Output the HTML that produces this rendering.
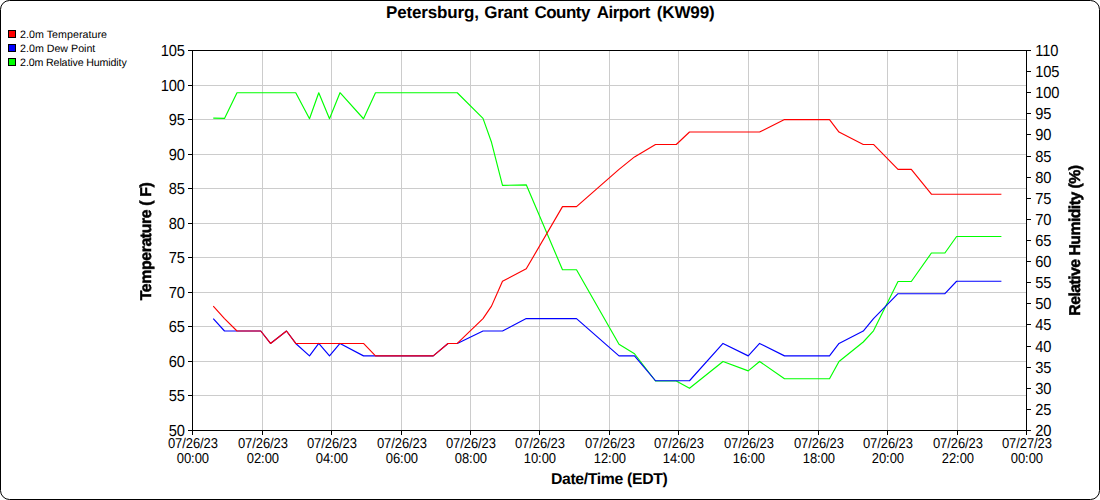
<!DOCTYPE html>
<html><head><meta charset="utf-8"><title>Petersburg, Grant County Airport (KW99)</title>
<style>
html,body{margin:0;padding:0;background:#fff;}
body{width:1100px;height:500px;position:relative;overflow:hidden;font-family:"Liberation Sans",sans-serif;color:#000;text-rendering:geometricPrecision;}
.t{position:absolute;white-space:nowrap;line-height:1;}
.tt{font-weight:bold;font-size:17px;top:4px;}
.yl{font-size:14.67px;text-align:right;width:60px;left:124.7px;letter-spacing:-0.16px;transform:scaleY(1.09);transform-origin:50% 2.5px;}
.yr{font-size:14.67px;text-align:left;left:1035.3px;letter-spacing:-0.16px;transform:scaleY(1.09);transform-origin:50% 2.5px;}
.xl{font-size:13px;text-align:center;width:80px;letter-spacing:-0.1px;transform:scaleY(1.1);transform-origin:50% 3px;}
.ax{font-weight:bold;font-size:15.8px;}
.lg{font-size:10.67px;left:20.1px;}
.sq{position:absolute;left:8px;width:6px;height:6px;border:1px solid #000;}
</style></head><body>
<svg width="1100" height="500" viewBox="0 0 1100 500" style="position:absolute;left:0;top:0">
<g fill="#cccccc" shape-rendering="crispEdges"><rect x="262" y="51" width="1" height="379"/><rect x="331" y="51" width="1" height="379"/><rect x="401" y="51" width="1" height="379"/><rect x="470" y="51" width="1" height="379"/><rect x="539" y="51" width="1" height="379"/><rect x="609" y="51" width="1" height="379"/><rect x="678" y="51" width="1" height="379"/><rect x="748" y="51" width="1" height="379"/><rect x="818" y="51" width="1" height="379"/><rect x="887" y="51" width="1" height="379"/><rect x="957" y="51" width="1" height="379"/><rect x="193" y="395" width="833" height="1"/><rect x="193" y="361" width="833" height="1"/><rect x="193" y="326" width="833" height="1"/><rect x="193" y="292" width="833" height="1"/><rect x="193" y="257" width="833" height="1"/><rect x="193" y="223" width="833" height="1"/><rect x="193" y="188" width="833" height="1"/><rect x="193" y="154" width="833" height="1"/><rect x="193" y="119" width="833" height="1"/><rect x="193" y="85" width="833" height="1"/></g>
<g fill="none" stroke-width="1.15" stroke-linejoin="round">
<polyline stroke="#00ff00" points="213.25,118.19 224.50,118.38 237.00,92.72 260.75,92.72 270.50,92.72 286.50,92.72 295.75,92.72 309.50,118.76 318.75,92.72 329.50,118.76 340.00,92.72 363.50,118.76 375.50,92.72 433.25,92.72 448.00,92.72 457.25,92.72 483.00,118.38 491.50,142.29 502.50,185.42 526.25,184.81 562.50,269.72 576.50,269.72 619.00,344.32 634.50,353.75 655.50,381.01 676.25,381.01 689.50,388.32 723.00,361.45 748.25,370.91 759.60,361.45 784.50,378.71 829.50,378.71 839.00,361.45 863.25,342.01 873.50,330.82 898.00,281.50 911.30,281.50 931.40,253.04 944.90,253.04 956.60,236.50 1001.40,236.50"/>
<polyline stroke="#0000ff" points="213.25,318.57 224.50,331.01 237.00,331.01 260.75,331.01 270.50,343.45 286.50,331.01 295.75,343.45 309.50,355.88 318.75,343.45 329.50,355.88 340.00,343.45 363.50,355.88 375.50,355.88 433.25,355.88 448.00,343.45 457.25,343.45 483.00,331.01 491.50,331.01 502.50,331.01 526.25,318.57 562.50,318.57 576.50,318.57 619.00,355.88 634.50,355.88 655.50,380.75 676.25,380.75 689.50,380.75 723.00,343.45 748.25,355.88 759.60,343.45 784.50,355.88 829.50,355.88 839.00,343.45 863.25,331.01 873.50,318.57 898.00,293.70 911.30,293.70 931.40,293.70 944.90,293.70 956.60,281.26 1001.40,281.26"/>
<polyline stroke="#ff0000" points="213.25,306.14 224.50,318.57 237.00,331.01 260.75,331.01 270.50,343.45 286.50,331.01 295.75,343.45 309.50,343.45 318.75,343.45 329.50,343.45 340.00,343.45 363.50,343.45 375.50,355.88 433.25,355.88 448.00,343.45 457.25,343.45 483.00,318.57 491.50,306.14 502.50,281.26 526.25,268.83 562.50,206.65 576.50,206.65 619.00,169.34 634.50,156.90 655.50,144.46 676.25,144.46 689.50,132.03 723.00,132.03 748.25,132.03 759.60,132.03 784.50,119.59 829.50,119.59 839.00,132.03 863.25,144.46 873.50,144.46 898.00,169.34 911.30,169.34 931.40,194.21 944.90,194.21 956.60,194.21 1001.40,194.21"/>
</g>
<g fill="#000" shape-rendering="crispEdges"><rect x="192" y="50" width="835" height="1"/><rect x="188" y="430" width="843" height="1"/><rect x="192" y="50" width="1" height="385"/><rect x="1026" y="50" width="1" height="385"/><rect x="188" y="430" width="5" height="1"/><rect x="188" y="395" width="5" height="1"/><rect x="188" y="361" width="5" height="1"/><rect x="188" y="326" width="5" height="1"/><rect x="188" y="292" width="5" height="1"/><rect x="188" y="257" width="5" height="1"/><rect x="188" y="223" width="5" height="1"/><rect x="188" y="188" width="5" height="1"/><rect x="188" y="154" width="5" height="1"/><rect x="188" y="119" width="5" height="1"/><rect x="188" y="85" width="5" height="1"/><rect x="188" y="50" width="5" height="1"/><rect x="1026" y="430" width="5" height="1"/><rect x="1026" y="409" width="5" height="1"/><rect x="1026" y="388" width="5" height="1"/><rect x="1026" y="367" width="5" height="1"/><rect x="1026" y="346" width="5" height="1"/><rect x="1026" y="324" width="5" height="1"/><rect x="1026" y="303" width="5" height="1"/><rect x="1026" y="282" width="5" height="1"/><rect x="1026" y="261" width="5" height="1"/><rect x="1026" y="240" width="5" height="1"/><rect x="1026" y="219" width="5" height="1"/><rect x="1026" y="198" width="5" height="1"/><rect x="1026" y="177" width="5" height="1"/><rect x="1026" y="156" width="5" height="1"/><rect x="1026" y="134" width="5" height="1"/><rect x="1026" y="113" width="5" height="1"/><rect x="1026" y="92" width="5" height="1"/><rect x="1026" y="71" width="5" height="1"/><rect x="1026" y="50" width="5" height="1"/><rect x="192" y="430" width="1" height="5"/><rect x="262" y="430" width="1" height="5"/><rect x="331" y="430" width="1" height="5"/><rect x="401" y="430" width="1" height="5"/><rect x="470" y="430" width="1" height="5"/><rect x="539" y="430" width="1" height="5"/><rect x="609" y="430" width="1" height="5"/><rect x="678" y="430" width="1" height="5"/><rect x="748" y="430" width="1" height="5"/><rect x="818" y="430" width="1" height="5"/><rect x="887" y="430" width="1" height="5"/><rect x="957" y="430" width="1" height="5"/><rect x="1026" y="430" width="1" height="5"/></g>
<rect x="0.5" y="0.5" width="1099" height="499" rx="9" ry="9" fill="none" stroke="#000" stroke-width="1"/>
</svg>
<div class="t tt" style="left:385.93px;letter-spacing:-0.135px">Petersburg,</div>
<div class="t tt" style="left:484.30px;letter-spacing:-0.295px">Grant</div>
<div class="t tt" style="left:534.40px;letter-spacing:-0.504px">County</div>
<div class="t tt" style="left:596.65px;letter-spacing:-0.500px">Airport</div>
<div class="t tt" style="left:656.77px;letter-spacing:-0.136px">(KW99)</div>
<div class="sq" style="top:30px;background:#ff0000"></div>
<div class="t lg" style="top:30px;letter-spacing:0.04px">2.0m Temperature</div>
<div class="sq" style="top:44px;background:#0000ff"></div>
<div class="t lg" style="top:44px;letter-spacing:0px">2.0m Dew Point</div>
<div class="sq" style="top:58px;background:#00ff00"></div>
<div class="t lg" style="top:58px;letter-spacing:-0.14px">2.0m Relative Humidity</div>
<div class="t yl" style="top:424px">50</div>
<div class="t yl" style="top:389px">55</div>
<div class="t yl" style="top:355px">60</div>
<div class="t yl" style="top:320px">65</div>
<div class="t yl" style="top:286px">70</div>
<div class="t yl" style="top:251px">75</div>
<div class="t yl" style="top:217px">80</div>
<div class="t yl" style="top:182px">85</div>
<div class="t yl" style="top:148px">90</div>
<div class="t yl" style="top:113px">95</div>
<div class="t yl" style="top:79px">100</div>
<div class="t yl" style="top:44px">105</div>
<div class="t yr" style="top:424px">20</div>
<div class="t yr" style="top:403px">25</div>
<div class="t yr" style="top:382px">30</div>
<div class="t yr" style="top:361px">35</div>
<div class="t yr" style="top:340px">40</div>
<div class="t yr" style="top:318px">45</div>
<div class="t yr" style="top:297px">50</div>
<div class="t yr" style="top:276px">55</div>
<div class="t yr" style="top:255px">60</div>
<div class="t yr" style="top:234px">65</div>
<div class="t yr" style="top:213px">70</div>
<div class="t yr" style="top:192px">75</div>
<div class="t yr" style="top:171px">80</div>
<div class="t yr" style="top:150px">85</div>
<div class="t yr" style="top:128px">90</div>
<div class="t yr" style="top:107px">95</div>
<div class="t yr" style="top:86px">100</div>
<div class="t yr" style="top:65px">105</div>
<div class="t yr" style="top:44px">110</div>
<div class="t xl" style="left:152.9px;top:436px">07/26/23</div>
<div class="t xl" style="left:152.9px;top:451px">00:00</div>
<div class="t xl" style="left:222.9px;top:436px">07/26/23</div>
<div class="t xl" style="left:222.9px;top:451px">02:00</div>
<div class="t xl" style="left:291.9px;top:436px">07/26/23</div>
<div class="t xl" style="left:291.9px;top:451px">04:00</div>
<div class="t xl" style="left:361.9px;top:436px">07/26/23</div>
<div class="t xl" style="left:361.9px;top:451px">06:00</div>
<div class="t xl" style="left:430.9px;top:436px">07/26/23</div>
<div class="t xl" style="left:430.9px;top:451px">08:00</div>
<div class="t xl" style="left:499.9px;top:436px">07/26/23</div>
<div class="t xl" style="left:499.9px;top:451px">10:00</div>
<div class="t xl" style="left:569.9px;top:436px">07/26/23</div>
<div class="t xl" style="left:569.9px;top:451px">12:00</div>
<div class="t xl" style="left:638.9px;top:436px">07/26/23</div>
<div class="t xl" style="left:638.9px;top:451px">14:00</div>
<div class="t xl" style="left:708.9px;top:436px">07/26/23</div>
<div class="t xl" style="left:708.9px;top:451px">16:00</div>
<div class="t xl" style="left:778.9px;top:436px">07/26/23</div>
<div class="t xl" style="left:778.9px;top:451px">18:00</div>
<div class="t xl" style="left:847.9px;top:436px">07/26/23</div>
<div class="t xl" style="left:847.9px;top:451px">20:00</div>
<div class="t xl" style="left:917.9px;top:436px">07/26/23</div>
<div class="t xl" style="left:917.9px;top:451px">22:00</div>
<div class="t xl" style="left:986.9px;top:436px">07/27/23</div>
<div class="t xl" style="left:986.9px;top:451px">00:00</div>
<div class="t ax" style="left:550.95px;top:472px;letter-spacing:-0.35px;">Date/Time (EDT)</div>
<div style="position:absolute;left:81px;top:231px;width:130px;height:20px;transform:rotate(-90deg);transform-origin:50% 50%;will-change:transform"><div class="t ax" style="left:5.73px;top:3px;letter-spacing:-0.361px;transform:scaleY(1);transform-origin:0 13px;-webkit-text-stroke:0.5px #000">Temperature ( F)</div></div>
<div style="position:absolute;left:990px;top:230px;width:170px;height:20px;transform:rotate(-90deg);transform-origin:50% 50%;will-change:transform"><div class="t ax" style="left:9.35px;top:3px;letter-spacing:-0.5425px;transform:scaleY(1);transform-origin:0 13px;-webkit-text-stroke:0.5px #000">Relative Humidity (%)</div></div>
</body></html>
